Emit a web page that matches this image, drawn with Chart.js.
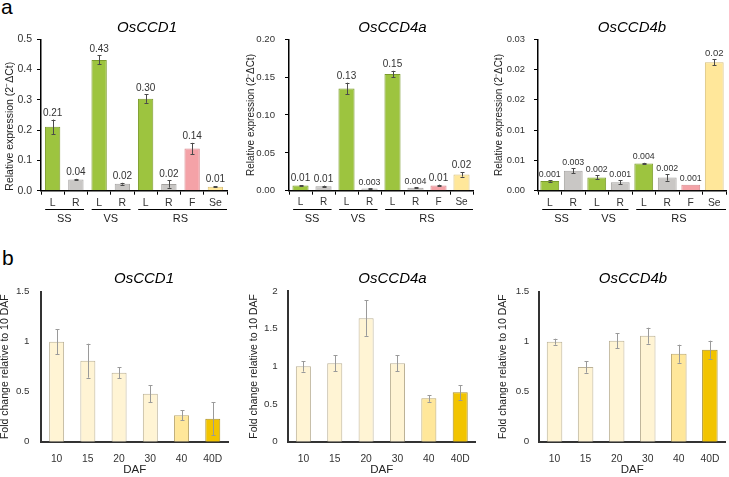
<!DOCTYPE html>
<html><head><meta charset="utf-8">
<script src="https://cdn.jsdelivr.net/npm/chart.js@4/dist/chart.umd.min.js"></script>
<style>
html,body{margin:0;padding:0;background:#fff;}
#wrap{position:relative;width:729px;height:477px;overflow:hidden;font-family:"Liberation Sans",Arial,sans-serif;}
canvas{position:absolute;}
.lab{position:absolute;font-size:21px;line-height:1;color:#000;}
</style></head><body>
<div id="wrap">
  <div class="lab" style="left:1px;top:-4px">a</div>
  <div class="lab" style="left:2px;top:247px">b</div>
  <canvas id="a1"></canvas><canvas id="a2"></canvas><canvas id="a3"></canvas>
  <canvas id="b1"></canvas><canvas id="b2"></canvas><canvas id="b3"></canvas>
</div>
<script>
// ---------- DATA ----------
const tissueCats = ['L','R','L','R','L','R','F','Se'];
const stageGroups = ['SS','VS','RS'];
const stageFirst = [0,2,4];
const stageLast = [1,3,7];

const ccd1Expr     = [0.211, 0.037, 0.432, 0.023, 0.304, 0.022, 0.139, 0.013];
const ccd1ExprErr  = [0.024, 0.002, 0.015, 0.003, 0.014, 0.012, 0.019, 0.002];
const ccd1ExprText = ['0.21','0.04','0.43','0.02','0.30','0.02','0.14','0.01'];

const ccd4aExpr     = [0.007, 0.006, 0.135, 0.003, 0.154, 0.004, 0.007, 0.0215];
const ccd4aExprErr  = [0.0005, 0.0007, 0.0077, 0.0003, 0.0044, 0.0005, 0.001, 0.0029];
const ccd4aExprText = ['0.01','0.01','0.13','0.003','0.15','0.004','0.01','0.02'];

const ccd4bExpr     = [0.0016, 0.0033, 0.0022, 0.0014, 0.0045, 0.0022, 0.001, 0.0212];
const ccd4bExprErr  = [0.0001, 0.0004, 0.00035, 0.0003, 0.0001, 0.00055, 0, 0.0005];
const ccd4bExprText = ['0.001','0.003','0.002','0.001','0.004','0.002','0.001','0.02'];

const ticksCcd1Expr  = ['0.0','0.1','0.2','0.3','0.4','0.5'];
const ticksCcd4aExpr = ['0.00','0.05','0.10','0.15','0.20'];
const ticksCcd4bExpr = ['0.00','0.01','0.01','0.02','0.02','0.03'];

const dafCats = ['10','15','20','30','40','40D'];
const ccd1Fold     = [1.0, 0.81, 0.69, 0.48, 0.265, 0.23];
const ccd1FoldErr  = [0.125, 0.17, 0.055, 0.087, 0.05, 0.165];
const ccd4aFold    = [1.0, 1.04, 1.64, 1.04, 0.575, 0.655];
const ccd4aFoldErr = [0.07, 0.105, 0.235, 0.105, 0.045, 0.097];
const ccd4bFold    = [1.0, 0.747, 1.01, 1.06, 0.88, 0.92];
const ccd4bFoldErr = [0.03, 0.057, 0.077, 0.08, 0.09, 0.09];
const ticksFold15 = ['0','0.5','1','1.5'];
const ticksFold2  = ['0','0.5','1','1.5','2'];

// ---------- STYLE ----------
const tissueFill   = ['#9dc43f','#c9c7c5','#9dc43f','#c9c7c5','#9dc43f','#c9c7c5','#f4a2a7','#ffe79a'];
const tissueBorder = ['#7b9b2c','#a4a2a0','#7b9b2c','#a4a2a0','#7b9b2c','#a4a2a0','#d98a90','#d8c07a'];
const dafFill   = ['#fff4d4','#fff4d4','#fff4d4','#fff4d4','#ffe79a','#f2c400'];
const dafBorder = ['#bcb297','#bcb297','#bcb297','#bcb297','#bca86e','#a88e2a'];

Chart.defaults.font.family = '"Liberation Sans", Arial, sans-serif';

function makeOverlay(p){
  return {
    id:'overlay_'+p.id,
    afterDatasetsDraw(chart){
      const ctx = chart.ctx, ys = chart.scales.y, xs = chart.scales.x;
      const meta = chart.getDatasetMeta(0);
      ctx.save();
      meta.data.forEach((bar,i)=>{
        const v = p.values[i], e = p.errors[i];
        const yt = ys.getPixelForValue(v+e), yb = ys.getPixelForValue(Math.max(v-e,0));
        const x = Math.round(bar.x)+0.5;
        if (e>0){
          ctx.strokeStyle = p.errColor; ctx.lineWidth = 1;
          ctx.beginPath();
          ctx.moveTo(x,yt); ctx.lineTo(x,yb);
          ctx.moveTo(x-2,Math.round(yt)+0.5); ctx.lineTo(x+2,Math.round(yt)+0.5);
          ctx.moveTo(x-2,Math.round(yb)+0.5); ctx.lineTo(x+2,Math.round(yb)+0.5);
          ctx.stroke();
        }
        if (p.text){
          const t = p.text[i];
          ctx.fillStyle = '#333';
          ctx.font = (t.length>=5 ? p.valFontSmall : p.valFont) + 'px "Liberation Sans", Arial, sans-serif';
          ctx.textAlign = 'center'; ctx.textBaseline = 'bottom';
          ctx.fillText(t, bar.x, Math.min(yt, bar.y) - 1.5);
        }
      });
      ctx.restore();
    },
    afterDraw(chart){
      const ctx = chart.ctx, xs = chart.scales.x;
      ctx.save();
      // title
      ctx.fillStyle = '#000';
      ctx.font = 'italic ' + p.titleSize + 'px "Liberation Sans", Arial, sans-serif';
      ctx.textAlign = 'center'; ctx.textBaseline = 'middle';
      ctx.fillText(p.title, p.titleX - p.cx, p.titleY - p.cy);
      // groups
      if (p.groups){
        const cw = xs.width / p.labels.length;
        ctx.strokeStyle = '#000'; ctx.lineWidth = 1;
        ctx.font = p.groupFont + 'px "Liberation Sans", Arial, sans-serif';
        ctx.fillStyle = '#222';
        p.groups.forEach((g,k)=>{
          const c0 = xs.getPixelForValue(stageFirst[k]), c1 = xs.getPixelForValue(stageLast[k]);
          const x0 = c0 - 0.32*cw;
          const x1 = (k === p.groups.length-1) ? chart.chartArea.right : c1 + 0.35*cw;
          const ly = Math.round(p.lineY - p.cy) + 0.5;
          ctx.beginPath(); ctx.moveTo(x0, ly); ctx.lineTo(x1, ly); ctx.stroke();
          ctx.fillText(g, (c0+c1)/2, p.groupY - p.cy);
        });
      }
      ctx.restore();
    }
  };
}

function makeChart(p){
  const cv = document.getElementById(p.id);
  cv.width = p.cw; cv.height = p.ch;
  cv.style.left = p.cx+'px'; cv.style.top = p.cy+'px';
  cv.style.width = p.cw+'px'; cv.style.height = p.ch+'px';
  const pt = p.area.top - p.cy, pr = p.cx + p.cw - p.area.right, pb = 0;
  const yW = p.area.left - p.cx - p.pl;
  const xH = p.cy + p.ch - pb - p.area.bottom;
  const ticksOut = !!p.groups;
  new Chart(cv, {
    type:'bar',
    data:{labels:p.labels, datasets:[{data:p.values, backgroundColor:p.fill, borderColor:p.border,
      borderWidth:1, barPercentage:p.barPct, categoryPercentage:1}]},
    options:{
      responsive:false, animation:false, devicePixelRatio:1,
      layout:{padding:{left:p.pl, top:pt, right:pr, bottom:pb}},
      plugins:{legend:{display:false}, tooltip:{enabled:false}, title:{display:false}},
      scales:{
        x:{
          type:'category', offset:true,
          grid:{display:ticksOut, drawOnChartArea:false, drawTicks:true, tickLength:4, color:'#000', offset:true},
          border:{display:true, color:p.axisColor, width:p.axisWidth},
          ticks:{color:'#333', font:{size:p.xTickFont}, padding:p.xTickPad, maxRotation:0, autoSkip:false},
          title: p.xTitle ? {display:true, text:p.xTitle, color:'#222', font:{size:11.5, lineHeight:1.2}, padding:0} : {display:false},
          afterFit:(s)=>{ s.height = xH; }
        },
        y:{
          min:0, max:p.yMax,
          grid:{display:ticksOut, drawOnChartArea:false, drawTicks:true, tickLength:4, color:'#000'},
          border:{display:true, color:p.axisColor, width:p.axisWidth},
          ticks:{stepSize:p.yStep, color:'#333', font:{size:p.yTickFont}, padding:p.yTickPad,
                 callback:(v,i)=>p.yTicks[i]},
          title:{display:true, text:p.yTitle, color:'#222', align:p.yTitleAlign,
                 font:{size:p.yTitleSize, lineHeight:1}, padding:0},
          afterFit:(s)=>{ s.width = yW; }
        }
      }
    },
    plugins:[makeOverlay(p)]
  });
}

const yTitleA = 'Relative expression (2\u207B\u0394Ct)';
const yTitleB = 'Fold change relative to 10 DAF';

const common_a = {cy:0, ch:240, labels:tissueCats, groups:stageGroups, fill:tissueFill, border:tissueBorder,
  errColor:'#4a4a4a', axisColor:'#000', axisWidth:1.5, titleY:28, titleSize:15,
  lineY:209.3, groupY:218.5, groupFont:11, xTickPad:2, yTitle:yTitleA};
const common_b = {cy:240, ch:237, labels:dafCats, fill:dafFill, border:dafBorder,
  errColor:'#9a9a9a', axisColor:'#333', axisWidth:2, titleY:279, titleSize:15,
  xTickPad:7, xTickFont:10.3, yTickFont:9.8, xTitle:'DAF', yTitle:yTitleB, yTitleSize:10.5, yTitleAlign:'center'};

makeChart(Object.assign({}, common_a, {id:'a1', cx:0, cw:240,
  area:{left:41, top:39.3, right:227, bottom:190.7}, pl:5, barPct:0.66,
  values:ccd1Expr, errors:ccd1ExprErr, text:ccd1ExprText, valFont:10, valFontSmall:9,
  yMax:0.5, yStep:0.1, yTicks:ticksCcd1Expr, yTickFont:10.5, yTickPad:5, xTickFont:10.5,
  yTitleSize:10.5, yTitleAlign:'start', title:'OsCCD1', titleX:147}));

makeChart(Object.assign({}, common_a, {id:'a2', cx:240, cw:240,
  area:{left:289, top:39.3, right:473, bottom:190.7}, pl:6.7, barPct:0.7,
  values:ccd4aExpr, errors:ccd4aExprErr, text:ccd4aExprText, valFont:10, valFontSmall:8.8,
  yMax:0.2, yStep:0.05, yTicks:ticksCcd4aExpr, yTickFont:9.6, yTickPad:10, xTickFont:10,
  yTitleSize:10, yTitleAlign:'center', title:'OsCCD4a', titleX:392.5}));

makeChart(Object.assign({}, common_a, {id:'a3', cx:480, cw:249,
  area:{left:538, top:39.3, right:726, bottom:190.7}, pl:14, barPct:0.8,
  values:ccd4bExpr, errors:ccd4bExprErr, text:ccd4bExprText, valFont:9.5, valFontSmall:8.8,
  yMax:0.025, yStep:0.005, yTicks:ticksCcd4bExpr, yTickFont:9.4, yTickPad:9, xTickFont:10.3,
  yTitleSize:10, yTitleAlign:'center', title:'OsCCD4b', titleX:632}));

makeChart(Object.assign({}, common_b, {id:'b1', cx:0, cw:240,
  area:{left:41, top:291.7, right:228.4, bottom:441.7}, pl:0, barPct:0.48,
  values:ccd1Fold, errors:ccd1FoldErr, yMax:1.5, yStep:0.5, yTicks:ticksFold15, yTickPad:7.5,
  title:'OsCCD1', titleX:144}));

makeChart(Object.assign({}, common_b, {id:'b2', cx:240, cw:240,
  area:{left:287.7, top:291, right:475.9, bottom:441.7}, pl:8.5, barPct:0.48,
  values:ccd4aFold, errors:ccd4aFoldErr, yMax:2, yStep:0.5, yTicks:ticksFold2, yTickPad:6,
  title:'OsCCD4a', titleX:392.5}));

makeChart(Object.assign({}, common_b, {id:'b3', cx:480, cw:249,
  area:{left:539, top:291.7, right:725.4, bottom:441.7}, pl:18, barPct:0.5,
  values:ccd4bFold, errors:ccd4bFoldErr, yMax:1.5, yStep:0.5, yTicks:ticksFold15, yTickPad:5.7,
  title:'OsCCD4b', titleX:633}));
</script>
</body></html>
